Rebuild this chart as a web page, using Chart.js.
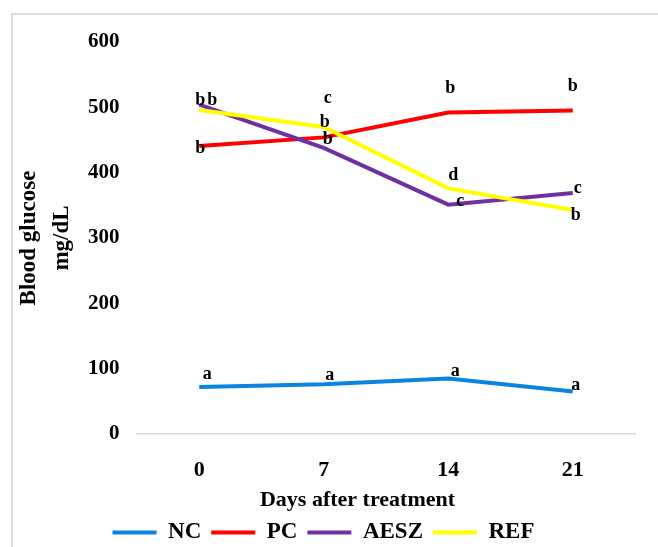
<!DOCTYPE html>
<html><head><meta charset="utf-8">
<script src="https://cdn.jsdelivr.net/npm/chart.js@4/dist/chart.umd.min.js"></script>
<style>
html,body{margin:0;padding:0;background:#fff;}
#wrap{position:relative;width:658px;height:547px;overflow:hidden;background:#fff;}
#frame{position:absolute;left:11px;top:13px;width:720px;height:620px;border-left:2px solid #dcdcdc;border-top:2px solid #dcdcdc;}
canvas{position:absolute;left:0;top:0;}
</style></head><body>
<div id="wrap"><div id="frame"></div><canvas id="c" width="658" height="547"></canvas></div>
<script>
// ---- data ----
const days = ['0', '7', '14', '21'];
const seriesNames = ['NC', 'PC', 'AESZ', 'REF'];
const ncValues = [72, 76, 85, 65];
const pcValues = [441, 454, 492, 495];
const aeszValues = [504, 438, 351, 369];
const refValues = [496, 470, 376, 343];
const ncLetters = ['a', 'a', 'a', 'a'];
const pcLetters = ['b', 'b', 'b', 'b'];
const aeszLetters = ['b', 'b', 'c', 'c'];
const refLetters = ['b', 'c', 'd', 'b'];
const yTickMin = 0, yTickMax = 600, yTickStep = 100;
const xTitle = 'Days after treatment';
const yTitle = ['Blood glucose', 'mg/dL'];

// ---- style ----
const colors = ['#0a84e0', '#ff0000', '#7030a0', '#ffff00'];
const letterOffsets = [
  [[8, -8], [6, -4], [7, -2], [3, -2]],
  [[1, 7], [4, 7], [2, -20], [0, -20]],
  [[1, 0], [1, -21], [12, 1], [5, 0]],
  [[13, -5], [4, -24], [5, -8], [3, 10]]
];
const XTITLE_SHIFT = -28.5;
const SERIF = "'Liberation Serif', 'Times New Roman', serif";

Chart.defaults.font.family = SERIF;
Chart.defaults.font.weight = 'bold';
Chart.defaults.color = '#000';

const valuesList = [ncValues, pcValues, aeszValues, refValues];
const lettersList = [ncLetters, pcLetters, aeszLetters, refLetters];

const datasets = seriesNames.map((name, i) => ({
  label: name,
  data: valuesList[i],
  letters: lettersList[i],
  borderColor: colors[i],
  backgroundColor: colors[i],
  borderWidth: 4,
  pointRadius: 0,
  pointHoverRadius: 0,
  tension: 0,
  fill: false,
  order: seriesNames.length - 1 - i
}));

const letterPlugin = {
  id: 'letters',
  afterDatasetsDraw(chart) {
    const ctx = chart.ctx;
    ctx.save();
    ctx.font = 'bold 18px ' + SERIF;
    ctx.fillStyle = '#000';
    ctx.textAlign = 'center';
    ctx.textBaseline = 'alphabetic';
    chart.data.datasets.forEach((ds, i) => {
      const meta = chart.getDatasetMeta(i);
      meta.data.forEach((pt, j) => {
        const off = letterOffsets[i][j];
        ctx.fillText(ds.letters[j], pt.x + off[0], pt.y + off[1]);
      });
    });
    ctx.restore();
  }
};

const titleShiftPlugin = {
  id: 'titleShift',
  afterLayout(chart) {
    const xs = chart.scales.x;
    if (xs && !xs._shiftWrapped) {
      const orig = xs.drawTitle;
      xs.drawTitle = function () {
        this.ctx.save();
        this.ctx.translate(XTITLE_SHIFT, 0);
        orig.apply(this, arguments);
        this.ctx.restore();
      };
      xs._shiftWrapped = true;
    }
  }
};

new Chart(document.getElementById('c'), {
  type: 'line',
  data: { labels: days, datasets },
  plugins: [letterPlugin, titleShiftPlugin],
  options: {
    responsive: false,
    animation: false,
    devicePixelRatio: 1,
    layout: { padding: { left: 12, right: 23, top: 42, bottom: -7 } },
    plugins: {
      tooltip: { enabled: false },
      legend: {
        position: 'bottom',
        labels: {
          font: { size: 23, weight: 'bold', family: SERIF },
          color: '#000',
          boxWidth: 44,
          boxHeight: 4,
          padding: 10,
          generateLabels(chart) {
            const items = Chart.defaults.plugins.legend.labels.generateLabels(chart);
            items.forEach(it => { it.lineWidth = 0; });
            return items.sort((a, b) => a.datasetIndex - b.datasetIndex);
          }
        }
      }
    },
    scales: {
      x: {
        type: 'category',
        offset: true,
        grid: { display: false, drawTicks: false },
        border: { display: true, color: '#d9d9d9', width: 1.5 },
        ticks: { font: { size: 22, weight: 'bold', lineHeight: 1.2 }, color: '#000', padding: 23 },
        title: { display: true, text: xTitle, font: { size: 22, weight: 'bold', lineHeight: 1 }, color: '#000', padding: { top: 0, bottom: 0 } },
        afterFit(scale) { scale.height = 77; }
      },
      y: {
        min: yTickMin,
        max: yTickMax,
        grid: { display: false, drawTicks: false },
        border: { display: false },
        ticks: { stepSize: yTickStep, font: { size: 21, weight: 'bold' }, color: '#000', padding: 17.5 },
        title: { display: true, text: yTitle, font: { size: 23, weight: 'bold', lineHeight: 1.435 }, color: '#000', padding: { top: 1, bottom: 0 } },
        afterFit(scale) { scale.width = 125; }
      }
    }
  }
});
</script>
</body></html>
